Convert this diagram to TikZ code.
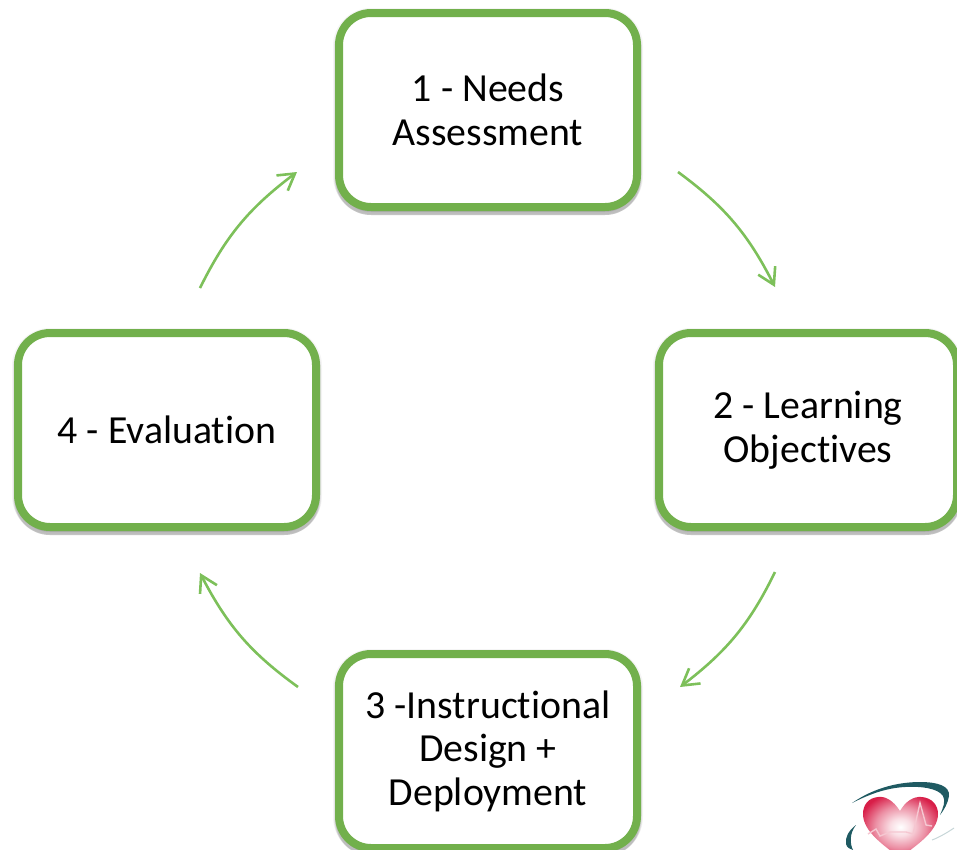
\documentclass[tikz,border=0pt]{standalone}
\usepackage{fontspec}
\setmainfont{Carlito}[RawFeature={-liga}]
\usetikzlibrary{arrows.meta}
\usetikzlibrary{bending}
\usetikzlibrary{shadows}
\definecolor{stagegreen}{HTML}{72B04C}
\definecolor{cyclegreen}{HTML}{7DC05A}
\definecolor{heartred}{HTML}{D81E48}
\definecolor{swoosh}{HTML}{1F5A62}
\pgfdeclareradialshading{heartglow}{\pgfpoint{0bp}{0bp}}{color(0bp)=(white); color(7bp)=(white!85!heartred);
    color(17bp)=(white!50!heartred); color(28bp)=(heartred); color(50bp)=(heartred!90!black)}
\tikzset{
    stagebox/.style={draw=stagegreen, line width=8pt, fill=white, rounded corners=32pt,
        minimum width=298pt, minimum height=194pt, inner sep=0pt, align=center, text=black,
        font=\fontsize{39.8}{43.5}\selectfont,
        drop shadow={shadow xshift=0pt, shadow yshift=-1pt, draw=black, fill=black, line width=12pt, opacity=0.04},
        drop shadow={shadow xshift=0pt, shadow yshift=-3pt, draw=black, fill=black, line width=10pt, opacity=0.07},
        drop shadow={shadow xshift=0pt, shadow yshift=-4pt, draw=black, fill=black, line width=8pt, opacity=0.10},
        drop shadow={shadow xshift=0pt, shadow yshift=-5pt, draw=black, fill=black, line width=6pt, opacity=0.08}},
    cyclearrow/.style={draw=cyclegreen, line width=2.6pt, bend left=13.5,
        -{Straight Barb[length=16pt,width=19pt,line width=2.6pt,flex=0]}}
}
\begin{document}
\begin{tikzpicture}[x=1pt,y=-1pt]
        \clip (0,0) rectangle (957,849);

        % Creates the four stages
        \node[stagebox] (needs) at (488,110) {1 - Needs\\Assessment};
        \node[stagebox] (objectives) at (808,430) {2 - Learning\\Objectives};
        \node[stagebox] (design) at (488,751) {3 -Instructional\\Design +\\Deployment};
        \node[stagebox] (evaluation) at (167,430) {4 - Evaluation};

        % Calculate the arrow ends
        \coordinate (a1) at (678,172);
        \coordinate (a2) at (775,287);
        \coordinate (b1) at (775,572);
        \coordinate (b2) at (680,687);
        \coordinate (c1) at (298,687);
        \coordinate (c2) at (200,573);
        \coordinate (d1) at (200,288);
        \coordinate (d2) at (297,172);

        % Draw the cycle
        \draw[cyclearrow] (a1) to (a2);
        \draw[cyclearrow] (b1) to (b2);
        \draw[cyclearrow] (c1) to (c2);
        \draw[cyclearrow] (d1) to (d2);

        % Draw the logo
        \shade[shading=heartglow]
            (900,811) .. controls (893,800) and (885,796) .. (878,797)
            .. controls (868,798) and (863,805) .. (863,814)
            .. controls (863,832) and (885,846) .. (900,858)
            .. controls (915,846) and (938,832) .. (938,814)
            .. controls (938,805) and (932,798) .. (922,797)
            .. controls (913,796) and (905,802) .. (900,811) -- cycle;
        \draw[white!75!heartred, line width=1.4pt] (868,834) -- (876,829) -- (880,836) -- (890,832)
            -- (906,832) -- (913,834) -- (920,803) -- (926,825) -- (932,826);
        \fill[swoosh] (852,803) .. controls (875,787) and (900,782) .. (920,782)
            .. controls (938,782) and (950,786) .. (949,796)
            .. controls (948,803) and (944,810) .. (940,815)
            .. controls (943,808) and (946,801) .. (943,796)
            .. controls (938,788) and (920,786) .. (905,787)
            .. controls (885,788) and (868,795) .. (852,803) -- cycle;
        \fill[swoosh] (856,825) .. controls (848,831) and (845,838) .. (846,844)
            .. controls (847,848) and (850,849) .. (853,850)
            .. controls (850,844) and (849,834) .. (856,825) -- cycle;
        \draw[swoosh!25!white, line width=1pt] (932,840) .. controls (940,837) and (948,832) .. (954,828);

\end{tikzpicture}
\end{document}
